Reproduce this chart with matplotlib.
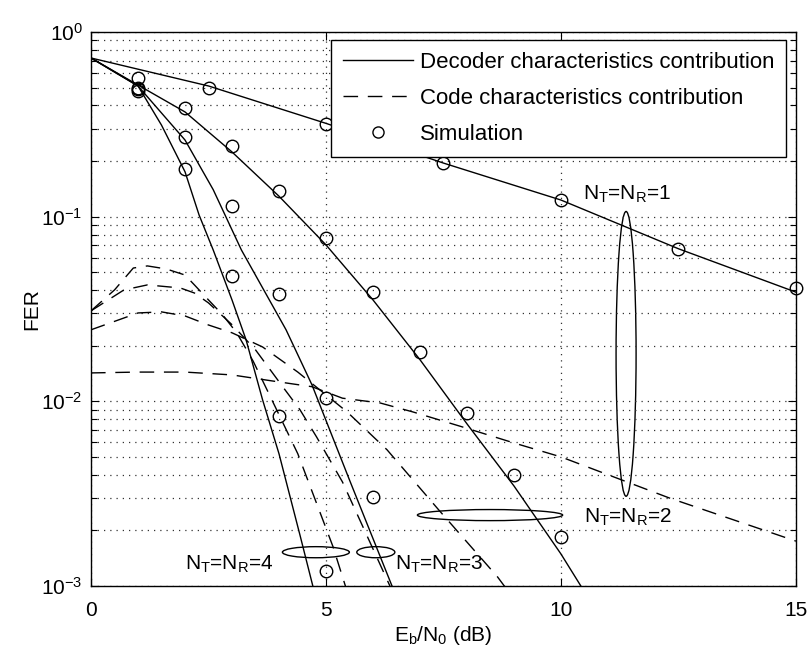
import numpy as np
import matplotlib
matplotlib.use('Agg')
import matplotlib.pyplot as plt
from matplotlib.lines import Line2D
from matplotlib.patches import Ellipse

plt.rcParams['font.family'] = ['Liberation Sans', 'DejaVu Sans']
plt.rcParams['mathtext.fontset'] = 'custom'
plt.rcParams['mathtext.rm'] = 'Liberation Sans'
plt.rcParams['mathtext.it'] = 'Liberation Sans:italic'
plt.rcParams['mathtext.bf'] = 'Liberation Sans:bold'
plt.rcParams['axes.unicode_minus'] = False

# decoder characteristics contribution (solid)
x_dec1 = [0, 2.5, 5, 7.5, 10, 12.5, 15]
fer_dec1 = [0.723, 0.51, 0.32, 0.195, 0.123, 0.067, 0.039]
x_dec2 = [0, 1, 2, 3, 4, 5, 6, 7, 8, 9, 10, 10.5]
fer_dec2 = [0.723, 0.516, 0.369, 0.224, 0.129, 0.0703, 0.0354, 0.0168, 0.00755, 0.00348, 0.00149, 0.00093]
x_dec3 = [0, 1, 2, 2.6, 3.2, 4.15, 4.7, 5.5, 6.5]
fer_dec3 = [0.723, 0.51, 0.26, 0.14, 0.066, 0.0244, 0.0123, 0.00375, 0.00087]
x_dec4 = [0, 1, 1.5, 2, 2.3, 2.6, 3, 3.3, 3.65, 4, 4.45, 4.8]
fer_dec4 = [0.723, 0.51, 0.313, 0.175, 0.102, 0.066, 0.0354, 0.0215, 0.0102, 0.0052, 0.00187, 0.00083]

# code characteristics contribution (dashed)
x_code1 = [0, 1, 2, 3, 3.85, 4.7, 5.35, 6.15, 6.85, 7.9, 9.0, 10, 12.3, 15]
fer_code1 = [0.01425, 0.0144, 0.0144, 0.0139, 0.0129, 0.0120, 0.0104, 0.0098, 0.00876, 0.00727, 0.00595, 0.0050, 0.0030, 0.00175]
x_code2 = [0, 1.0, 1.5, 2.0, 2.5, 3.0, 3.65, 4.4, 5.45, 6.3, 7.4, 8.65, 8.9]
fer_code2 = [0.0244, 0.0301, 0.0305, 0.029, 0.0259, 0.0235, 0.0197, 0.0144, 0.00876, 0.00546, 0.00258, 0.00112, 0.00092]
x_code3 = [0, 0.7, 1.2, 1.9, 2.2, 2.5, 3.0, 3.5, 4.1, 4.45, 4.8, 5.35, 6.4]
fer_code3 = [0.0309, 0.0401, 0.0427, 0.0411, 0.0386, 0.0341, 0.026, 0.019, 0.0118, 0.00897, 0.00641, 0.00366, 0.00095]
x_code4 = [0, 0.5, 0.9, 1.2, 1.6, 2.0, 2.2, 2.5, 2.8, 3.1, 3.45, 3.8, 4.4, 5.15, 5.5]
fer_code4 = [0.0309, 0.0401, 0.0527, 0.0541, 0.0521, 0.0483, 0.0427, 0.0354, 0.0294, 0.0235, 0.0165, 0.0108, 0.0052, 0.00163, 0.00085]

# simulated FER
x_sim1 = [1, 2.5, 5, 7.5, 10, 12.5, 15]
fer_sim1 = [0.56, 0.50, 0.318, 0.195, 0.123, 0.067, 0.041]
x_sim2 = [1, 2, 3, 4, 5, 6, 7, 8, 9, 10]
fer_sim2 = [0.50, 0.388, 0.241, 0.138, 0.0767, 0.039, 0.0185, 0.00865, 0.0040, 0.00184]
x_sim3 = [1, 2, 3, 4, 5, 6]
fer_sim3 = [0.49, 0.270, 0.114, 0.0381, 0.0104, 0.00304]
x_sim4 = [1, 2, 3, 4, 5]
fer_sim4 = [0.48, 0.181, 0.0478, 0.00834, 0.00121]

fig = plt.figure(figsize=(8.09, 6.62), dpi=100)
ax = fig.add_axes([0.1125, 0.1148, 0.8714, 0.8369])
ax.set_yscale('log')

dash = (0, (10.5, 7))
for xs, ys in [(x_dec1, fer_dec1), (x_dec2, fer_dec2), (x_dec3, fer_dec3), (x_dec4, fer_dec4)]:
	ax.plot(xs, ys, color='k', lw=1.0)
for xs, ys in [(x_code1, fer_code1), (x_code2, fer_code2), (x_code3, fer_code3), (x_code4, fer_code4)]:
	ax.plot(xs, ys, color='k', lw=1.0, linestyle=dash)
for xs, ys in [(x_sim1, fer_sim1), (x_sim2, fer_sim2), (x_sim3, fer_sim3), (x_sim4, fer_sim4)]:
	ax.plot(xs, ys, 'o', mfc='none', mec='k', ms=9, mew=1.0, clip_on=False, zorder=4)

ax.set_xlim(0, 15)
ax.set_ylim(1e-3, 1)
ax.set_xticks([0, 5, 10, 15])
ax.tick_params(which='both', direction='in', top=True, right=True, labelsize=15)
ax.tick_params(which='major', length=6, width=0.8)
ax.tick_params(which='minor', length=4, width=0.8)
ax.tick_params(axis='x', pad=11)
ax.tick_params(axis='y', pad=6)
ax.grid(True, axis='y', which='both', color='0.2', linestyle=(0, (1, 4)), lw=0.9)
ax.grid(True, axis='x', which='major', color='0.2', linestyle=(0, (1, 4)), lw=0.9)
for s in ax.spines.values():
	s.set_linewidth(1.0)

ax.set_xlabel(r'E$_\mathregular{b}$/N$_\mathregular{0}$ (dB)', fontsize=15)
ax.set_ylabel('FER', fontsize=15)
ax.xaxis.set_label_coords(0.5, -0.068)
ax.yaxis.set_label_coords(-0.07, 0.5)

# ellipses grouping the curves of each antenna setup
for cx, cy, w, h in [(0.759, 0.419, 0.0284, 0.514), (0.566, 0.128, 0.206, 0.020),
                     (0.404, 0.061, 0.054, 0.020), (0.319, 0.061, 0.095, 0.020)]:
	ax.add_patch(Ellipse((cx, cy), w, h, transform=ax.transAxes, fill=False, ec='k', lw=1.0))

def nlabel(n):
	return r'N$_\mathregular{T}$=N$_\mathregular{R}$=%d' % n

ax.text(10.47, 0.123, nlabel(1), fontsize=15, va='baseline')
ax.text(10.49, 0.0022, nlabel(2), fontsize=15, va='baseline')
ax.text(6.47, 0.00122, nlabel(3), fontsize=15, va='baseline')
ax.text(2.0, 0.00122, nlabel(4), fontsize=15, va='baseline')

handles = [Line2D([], [], color='k', lw=1.0),
           Line2D([], [], color='k', lw=1.0, linestyle=dash),
           Line2D([], [], color='k', marker='o', mfc='none', ms=8, linestyle='none')]
labels = ['Decoder characteristics contribution', 'Code characteristics contribution', 'Simulation']
leg = ax.legend(handles, labels, loc='upper right', bbox_to_anchor=(0.986, 0.9856), borderaxespad=0,
                fontsize=16, handlelength=3.15, handletextpad=0.3, borderpad=0.54, labelspacing=0.68,
                fancybox=False, framealpha=1, edgecolor='k')
leg.get_frame().set_linewidth(1.0)
leg.set_zorder(5)

fig.savefig('out.png', dpi=100)
